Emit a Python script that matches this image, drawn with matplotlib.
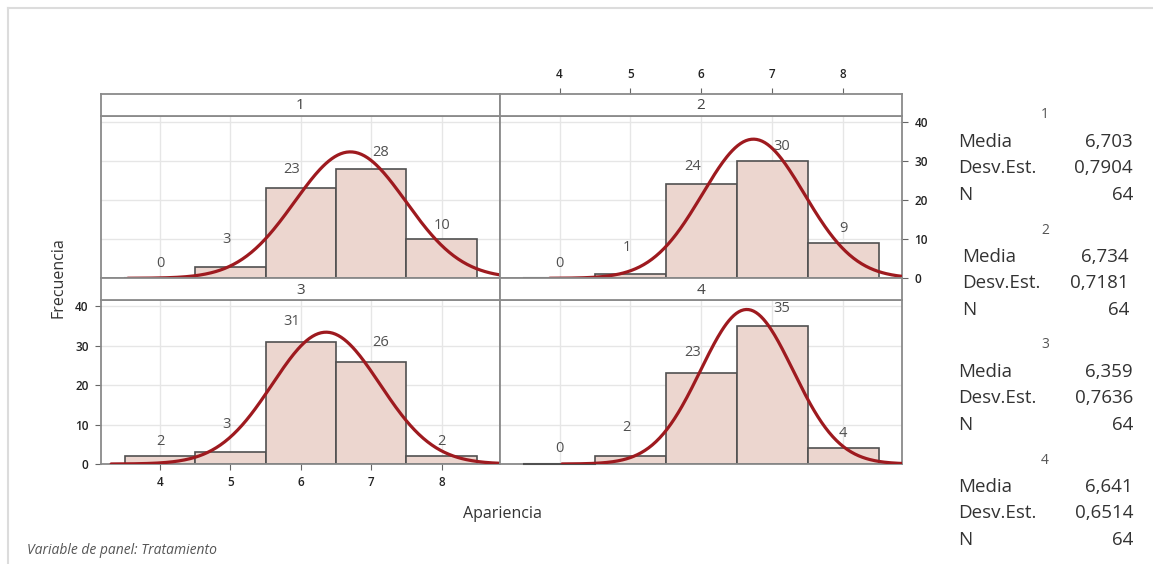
import numpy as np
import matplotlib.pyplot as plt
from matplotlib.lines import Line2D

plt.rcParams['font.family'] = ['Open Sans', 'DejaVu Sans']

# data
bin_centers = [4, 5, 6, 7, 8]
panels = ['1', '2', '3', '4']
counts = {
    '1': [0, 3, 23, 28, 10],
    '2': [0, 1, 24, 30, 9],
    '3': [2, 3, 31, 26, 2],
    '4': [0, 2, 23, 35, 4],
}
media = {'1': 6.703, '2': 6.734, '3': 6.359, '4': 6.641}
desv = {'1': 0.7904, '2': 0.7181, '3': 0.7636, '4': 0.6514}
n_obs = {'1': 64, '2': 64, '3': 64, '4': 64}

media_txt = {'1': '6,703', '2': '6,734', '3': '6,359', '4': '6,641'}
desv_txt = {'1': '0,7904', '2': '0,7181', '3': '0,7636', '4': '0,6514'}

y_ticks = [0, 10, 20, 30, 40]

# label offsets (layout only)
lab_dx = [0.0, -0.05, -0.13, 0.14, 0.0]
lab_dy = {
    '1': [3.8, 6.9, 4.7, 4.2, 3.5],
    '2': [3.8, 6.9, 4.5, 3.8, 3.7],
    '3': [3.7, 7.0, 5.2, 4.8, 3.7],
    '4': [4.0, 7.2, 5.4, 4.5, 3.7],
}

W, H = 1153, 564
fig = plt.figure(figsize=(W / 100, H / 100), dpi=100)


def rect(x0, y0, x1, y1):
    # pixel box (from top-left) -> figure fraction
    return [x0 / W, 1 - y1 / H, (x1 - x0) / W, (y1 - y0) / H]


FRAME = '#8a8a8a'
BAR = '#ecd6cf'
EDGE = '#505050'
CURVE = '#9e1a1f'
GRID = '#e6e6e6'
XLIM = (3.16, 8.83)
YLIM = (0, 41.6)
TICKFS = 8.5

cols = [(101, 500), (500, 902)]
rows = [((94, 115.5), (115.5, 278.3)), ((278.3, 300), (300, 464))]

for i, p in enumerate(panels):
    r, c = divmod(i, 2)
    x0, x1 = cols[c]
    (s0, s1), (a0, a1) = rows[r]

    ax = fig.add_axes(rect(x0, a0, x1, a1))
    ax.set_xlim(*XLIM)
    ax.set_ylim(*YLIM)
    for v in bin_centers:
        ax.axvline(v, color=GRID, lw=1, zorder=0)
    for v in y_ticks:
        ax.axhline(v, color=GRID, lw=1, zorder=0)

    ax.bar(bin_centers, counts[p], width=1.0, color=BAR, edgecolor=EDGE,
           linewidth=1.2, zorder=2)
    # zero bins show as a flat line
    for xc, cnt in zip(bin_centers, counts[p]):
        if cnt == 0:
            ax.plot([xc - 0.5, xc + 0.5], [0, 0], color=EDGE, lw=1.5,
                    zorder=3, clip_on=False)

    xs = np.linspace(media[p] - 4 * desv[p], media[p] + 4 * desv[p], 300)
    ys = n_obs[p] * 1.0 / (desv[p] * np.sqrt(2 * np.pi)) * \
        np.exp(-0.5 * ((xs - media[p]) / desv[p]) ** 2)
    ax.plot(xs, ys, color=CURVE, lw=2.3, zorder=4, solid_capstyle='round')

    for k, (xc, cnt) in enumerate(zip(bin_centers, counts[p])):
        ax.text(xc + lab_dx[k], cnt + lab_dy[p][k], str(cnt), ha='center',
                va='center', fontsize=10.5, color='#505050', zorder=5)

    for sp in ax.spines.values():
        sp.set_color(FRAME)
        sp.set_linewidth(1.3)

    ax.set_xticks(bin_centers)
    ax.set_yticks(y_ticks)
    ax.tick_params(length=4, color='#666666', labelsize=TICKFS,
                   labelcolor='#222222', bottom=False, left=False,
                   labelbottom=False, labelleft=False)
    if p == '3':
        ax.tick_params(bottom=True, labelbottom=True, left=True, labelleft=True,
                       pad=5)
    if p == '2':
        ax.yaxis.tick_right()
        ax.tick_params(right=True, labelright=True, pad=5)
    for lab in ax.get_xticklabels() + ax.get_yticklabels():
        lab.set_fontweight('semibold')

    # strip
    sx = fig.add_axes(rect(x0, s0, x1, s1))
    sx.set_xlim(*XLIM)
    sx.set_ylim(0, 1)
    sx.set_yticks([])
    sx.set_xticks(bin_centers)
    sx.tick_params(length=4, color='#666666', labelsize=TICKFS,
                   labelcolor='#222222', bottom=False, labelbottom=False)
    if p == '2':
        sx.tick_params(top=True, labeltop=True, pad=5)
        for lab in sx.get_xticklabels():
            lab.set_fontweight('semibold')
    for sp in sx.spines.values():
        sp.set_color(FRAME)
        sp.set_linewidth(1.3)
    sx.text(0.5, 0.45, p, transform=sx.transAxes, ha='center', va='center',
            fontsize=11, color='#444444')

# axis titles
fig.text(58 / W, 1 - 278 / H, 'Frecuencia', rotation=90, ha='center',
         va='center', fontsize=11.5, color='#333333')
fig.text(502 / W, 1 - 514 / H, 'Apariencia', ha='center', va='center',
         fontsize=11.5, color='#333333')
fig.text(27 / W, 1 - 550 / H, 'Variable de panel: Tratamiento', ha='left',
         va='center', fontsize=10, style='italic', color='#555555')

# stats blocks
shift = [0, 4, 0, 0]
for b, p in enumerate(panels):
    hy = 115 + 115 * b
    fig.text(1045 / W, 1 - hy / H, p, ha='center', va='center', fontsize=10,
             color='#555555')
    names = ['Media', 'Desv.Est.', 'N']
    vals = [media_txt[p], desv_txt[p], str(n_obs[p])]
    for j, (nm, vv) in enumerate(zip(names, vals)):
        yy = hy + 26.7 * (j + 1)
        fig.text((958 + shift[b]) / W, 1 - yy / H, nm, ha='left', va='center',
                 fontsize=13.5, color='#333333')
        fig.text((1133 - shift[b]) / W, 1 - yy / H, vv, ha='right',
                 va='center', fontsize=13.5, color='#333333')

# outer frame
fig.add_artist(Line2D([7.5 / W, 1], [1 - 7.5 / H, 1 - 7.5 / H],
                      transform=fig.transFigure, color='#dcdcdc', lw=1.5))
fig.add_artist(Line2D([7.5 / W, 7.5 / W], [0, 1 - 7.5 / H],
                      transform=fig.transFigure, color='#dcdcdc', lw=1.5))

fig.savefig('out.png', dpi=100)
